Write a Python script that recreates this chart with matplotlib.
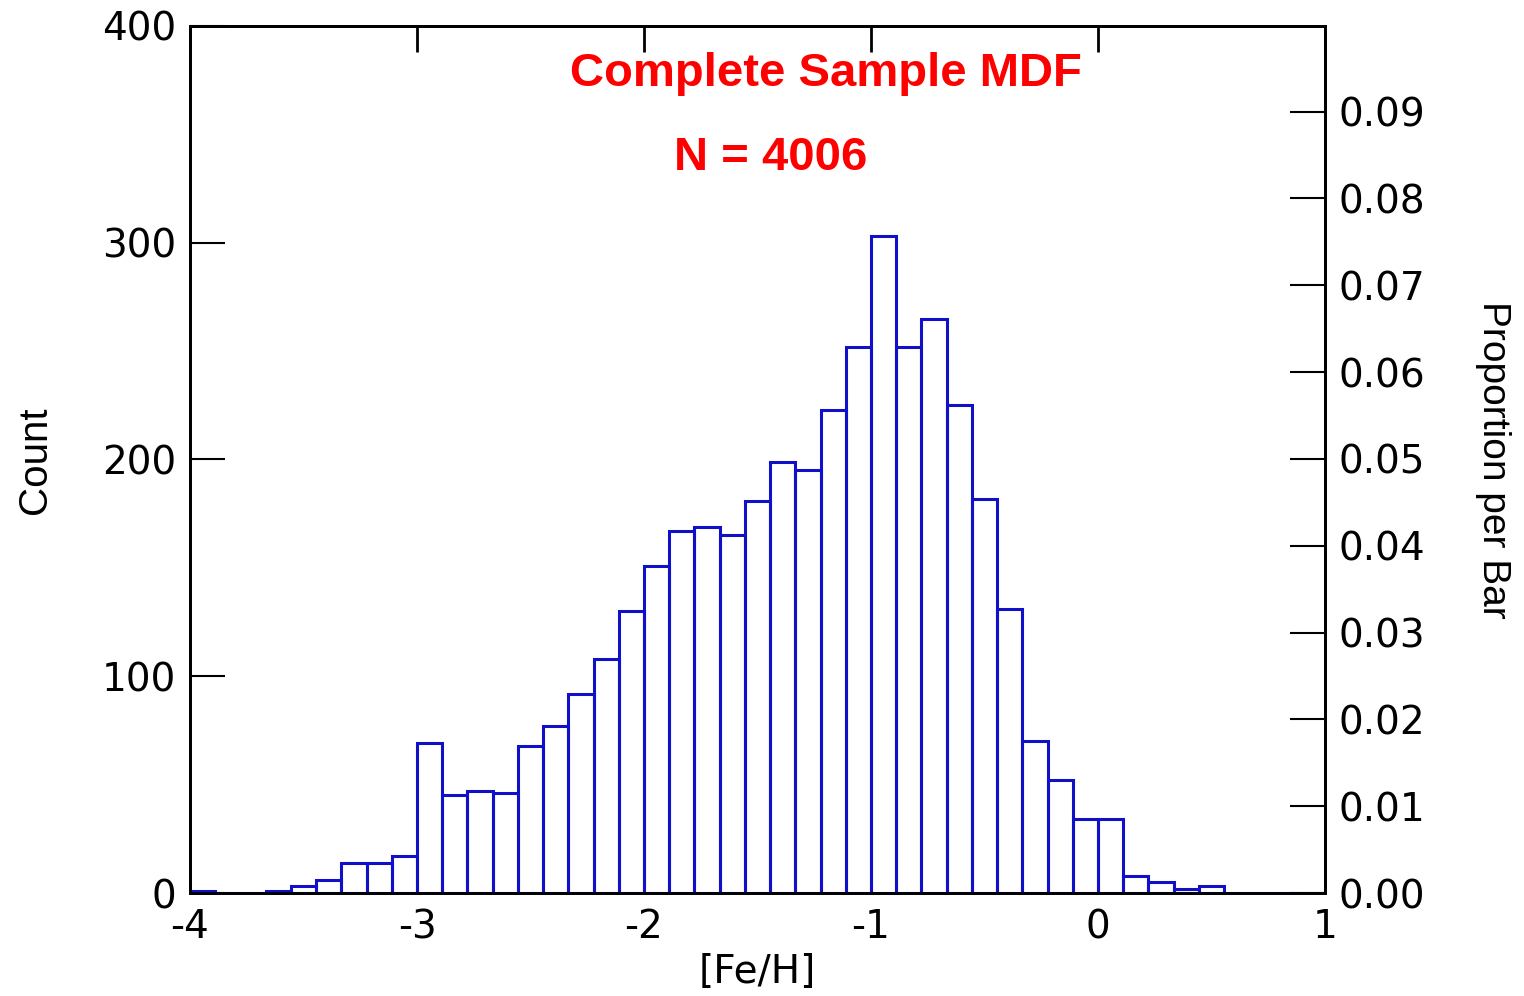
import numpy as np
import matplotlib.pyplot as plt

plt.rcParams['font.family'] = ['DejaVu Sans']

# bin edges: 45 bins of width 1/9 from -4 to 1
edges = np.linspace(-4, 1, 46)
counts = [1, 0, 0, 1, 3, 6, 14, 14, 17,
          69, 45, 47, 46, 68, 77, 92, 108, 130,
          151, 167, 169, 165, 181, 199, 195, 223, 252,
          303, 252, 265, 225, 182, 131, 70, 52, 34,
          34, 8, 5, 2, 3, 0, 0, 0, 0]
n_total = 4006
xticks = [-4, -3, -2, -1, 0, 1]
yticks = [0, 100, 200, 300, 400]
pticks = [0.00, 0.01, 0.02, 0.03, 0.04, 0.05, 0.06, 0.07, 0.08, 0.09]

W, H = 1524, 996
fig = plt.figure(figsize=(W / 100, H / 100), dpi=100)
ax = fig.add_axes([190 / W, 1 - 893 / H, 1135 / W, 867 / H])

width = edges[1] - edges[0]
ax.bar(edges[:-1], counts, width=width, align='edge', fill=False,
       edgecolor='#1010c8', linewidth=2.2, zorder=3)

ax.set_xlim(-4, 1)
ax.set_ylim(0, 400)
ax.set_xticks(xticks)
ax.set_xticklabels([str(t) for t in xticks])
ax.set_yticks(yticks)
ax.tick_params(axis='x', bottom=False, top=True, labelbottom=True, labeltop=False,
               direction='in', length=19, width=2, labelsize=28, pad=11)
ax.tick_params(axis='y', direction='in', length=25, width=1.5, labelsize=28, pad=10)
for s in ax.spines.values():
    s.set_linewidth(2)

ax2 = ax.twinx()
ax2.set_ylim(0, 400 / n_total)
ax2.set_yticks(pticks)
ax2.set_yticklabels(['%.2f' % p for p in pticks])
ax2.tick_params(axis='y', direction='in', length=25, width=1.5, labelsize=28, pad=10)
for s in ax2.spines.values():
    s.set_linewidth(2)

fig.text(757 / W, 1 - 972 / H, '[Fe/H]', fontsize=28, ha='center', va='center')
fig.text(35 / W, 1 - 460 / H, 'Count', fontsize=29, rotation=90,
         family='Liberation Sans', ha='center', va='center')
fig.text(1493 / W, 1 - 460 / H, 'Proportion per Bar', fontsize=28, rotation=270,
         family='Liberation Sans', ha='center', va='center')

ax.text(-1.2, 378, 'Complete Sample MDF', color='red', fontsize=34,
        fontweight='bold', family='Liberation Sans', ha='center', va='center')
ax.text(-1.44, 339, 'N = %d' % n_total, color='red', fontsize=34,
        fontweight='bold', family='Liberation Sans', ha='center', va='center')

fig.savefig('out.png', dpi=100)
